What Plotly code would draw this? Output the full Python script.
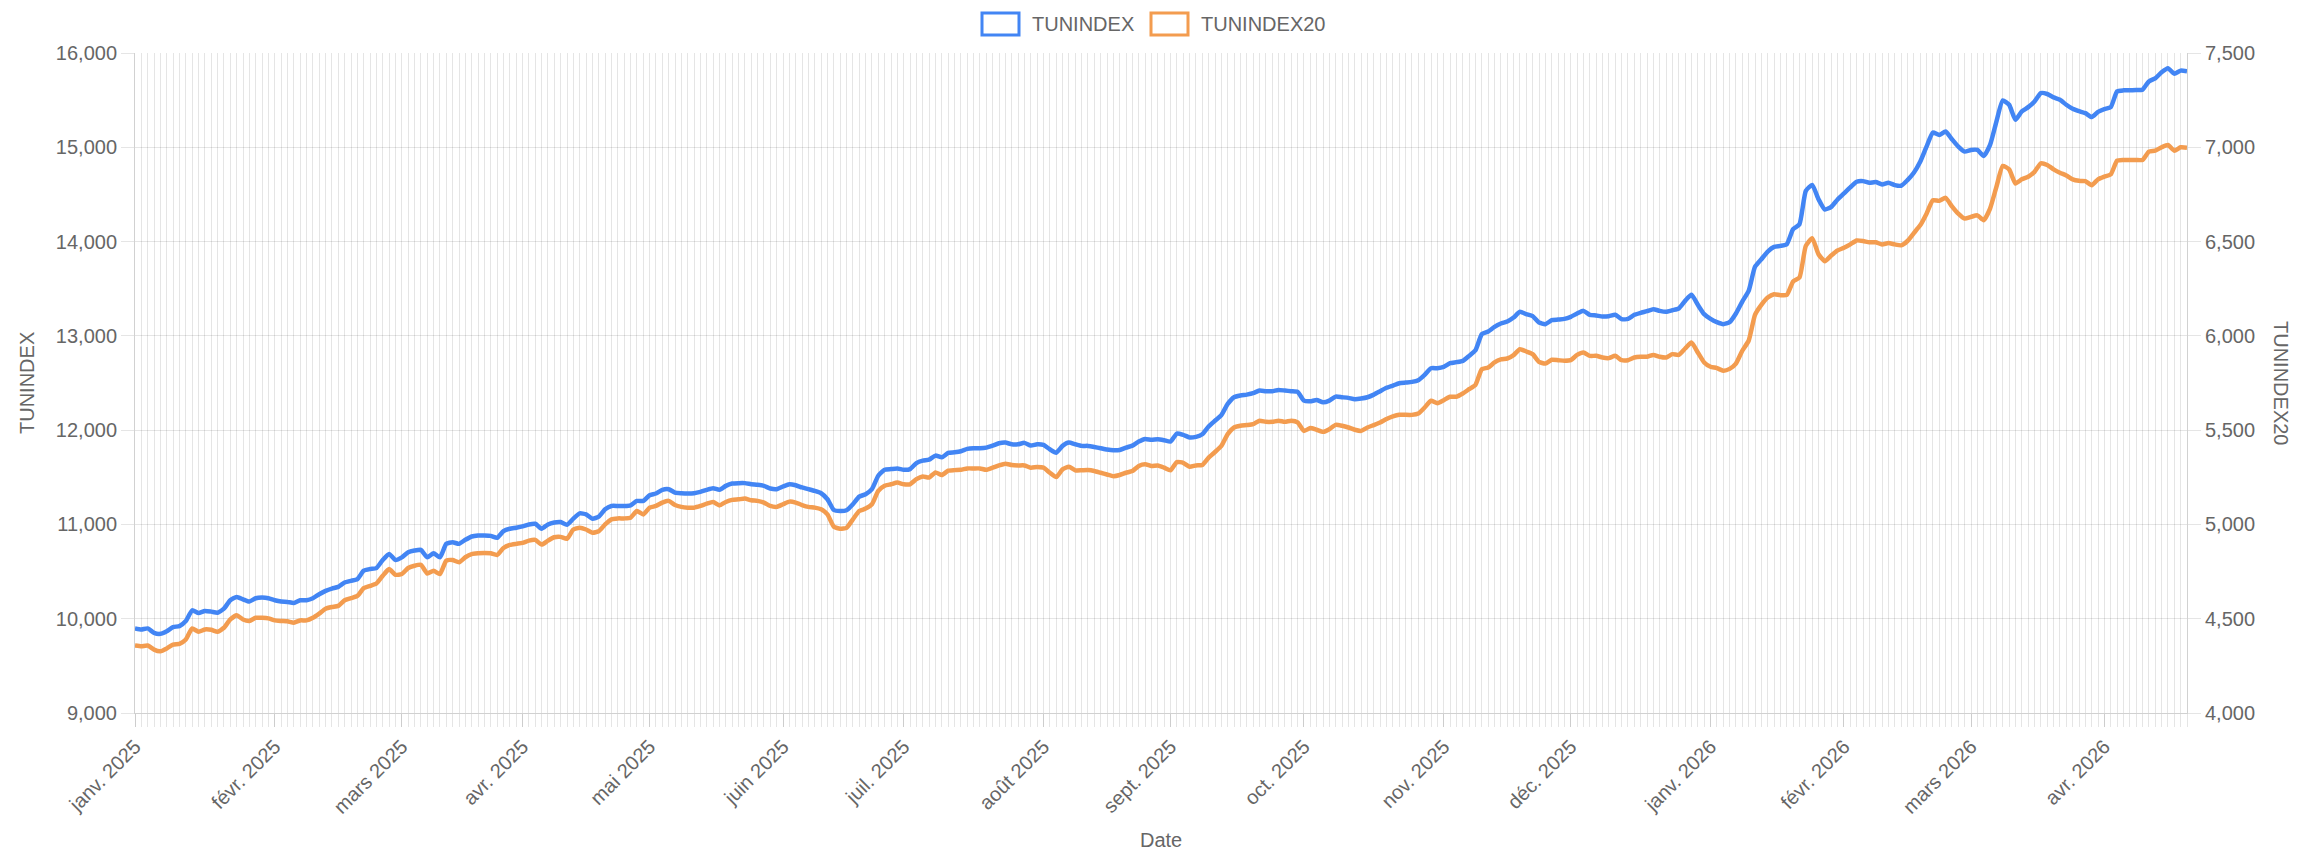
import pandas as pd
import plotly.graph_objects as go

# Trading days of the Tunis stock exchange, first session and closed days
START_DATE = '2025-01-02'
MARKET_HOLIDAYS = [
	'2025-01-01', '2025-03-20', '2025-03-31', '2025-04-01', '2025-04-09',
	'2025-05-01', '2025-06-06', '2025-06-26', '2025-07-25', '2025-08-13',
	'2025-09-04', '2025-10-15', '2025-12-17', '2026-01-01', '2026-03-20',
	'2026-04-09'
]

MONTH_NAMES = ['janv.', 'févr.', 'mars', 'avr.', 'mai', 'juin',
	'juil.', 'août', 'sept.', 'oct.', 'nov.', 'déc.']

# Daily closes, one value per session
TUNINDEX = [
	9897, 9886, 9897, 9850, 9840, 9868, 9911, 9922, 9975, 10089,
	10060, 10082, 10075, 10064, 10107, 10196, 10231, 10206, 10182, 10217,
	10224, 10217, 10196, 10182, 10178, 10167, 10196, 10196, 10217, 10260,
	10295, 10320, 10338, 10384, 10402, 10420, 10509, 10527, 10537, 10623,
	10687, 10623, 10651, 10705, 10723, 10730, 10651, 10694, 10651, 10794,
	10811, 10794, 10837, 10872, 10883, 10883, 10879, 10858, 10929, 10954,
	10965, 10979, 11000, 11007, 10954, 11000, 11021,
	11025, 10996, 11061, 11117, 11107, 11061, 11082, 11160, 11196, 11196,
	11196, 11203, 11249, 11249, 11310, 11328, 11367, 11374, 11338, 11331,
	11328, 11331, 11345, 11367, 11384, 11367, 11409, 11434, 11438, 11438,
	11427, 11420, 11409, 11381, 11374, 11402, 11427, 11416, 11392, 11374,
	11356, 11331, 11267, 11153, 11142, 11150, 11214, 11295, 11320, 11374,
	11516, 11580, 11587, 11594, 11580, 11587, 11651, 11676, 11687, 11730,
	11712, 11758, 11765, 11776, 11801, 11808, 11808,
	11815, 11836, 11861, 11868, 11850, 11850, 11865, 11836, 11850, 11843,
	11797, 11761, 11833, 11868, 11850, 11833, 11833, 11822, 11808, 11794,
	11786, 11790, 11815, 11836, 11879, 11907, 11897, 11904, 11893, 11879,
	11964, 11950, 11922, 11929, 11957, 12039, 12100, 12160, 12278, 12349,
	12367, 12377, 12392, 12420, 12413, 12413, 12427, 12420, 12413, 12406,
	12313, 12306, 12320, 12295, 12313, 12356, 12349, 12342, 12328, 12335,
	12349, 12377, 12413, 12449, 12473, 12498,
	12505, 12512, 12530, 12587, 12657, 12657, 12671, 12710, 12721, 12735,
	12788, 12848, 13018, 13046, 13096, 13131, 13152, 13194, 13255, 13230,
	13209, 13141, 13124, 13166, 13173, 13180, 13202, 13237, 13265, 13223,
	13216, 13205, 13209, 13223, 13177, 13180, 13223, 13244, 13262, 13283,
	13265, 13255, 13272, 13290, 13371, 13435, 13329, 13230, 13180, 13145,
	13124, 13145, 13237, 13364, 13477, 13732, 13813, 13894, 13944, 13954,
	13972, 14131, 14184, 14537, 14601, 14449,
	14340, 14368, 14446, 14510, 14574, 14634, 14641, 14624, 14631, 14606,
	14624, 14599, 14592, 14652, 14730, 14847, 15007, 15156, 15131, 15167,
	15085, 15007, 14954, 14972, 14972, 14908, 15025, 15273, 15497, 15451,
	15291, 15380, 15426, 15486, 15575, 15565, 15529, 15504, 15451, 15408,
	15383, 15362, 15320, 15376, 15405, 15426, 15593, 15604, 15604, 15607,
	15611, 15699, 15731, 15795, 15838, 15781, 15813, 15806
]

TUNINDEX20 = [
	4358, 4354, 4358, 4336, 4327, 4342, 4363, 4367, 4390, 4448,
	4431, 4443, 4441, 4431, 4452, 4496, 4518, 4496, 4488, 4505,
	4505, 4502, 4491, 4488, 4486, 4479, 4491, 4491, 4505, 4527,
	4553, 4562, 4568, 4598, 4609, 4621, 4662, 4674, 4687, 4728,
	4763, 4733, 4737, 4769, 4781, 4786, 4740, 4754, 4737, 4808,
	4811, 4799, 4826, 4843, 4847, 4849, 4847, 4838, 4875, 4891,
	4897, 4902, 4914, 4918, 4893, 4914, 4932,
	4934, 4924, 4973, 4982, 4973, 4956, 4964, 5000, 5027, 5032,
	5032, 5036, 5071, 5053, 5089, 5098, 5116, 5125, 5103, 5093,
	5089, 5089, 5098, 5110, 5119, 5101, 5119, 5130, 5133, 5137,
	5128, 5125, 5116, 5098, 5093, 5107, 5121, 5116, 5103, 5093,
	5089, 5080, 5053, 4988, 4977, 4982, 5027, 5071, 5084, 5107,
	5178, 5205, 5213, 5222, 5213, 5213, 5240, 5254, 5249, 5276,
	5262, 5285, 5288, 5290, 5297, 5297, 5297,
	5290, 5301, 5313, 5322, 5315, 5313, 5313, 5301, 5304, 5301,
	5274, 5251, 5292, 5306, 5287, 5287, 5288, 5283, 5274, 5265,
	5256, 5262, 5274, 5283, 5310, 5319, 5310, 5313, 5301, 5287,
	5331, 5327, 5306, 5313, 5315, 5354, 5384, 5416, 5479, 5514,
	5523, 5527, 5532, 5550, 5544, 5544, 5550, 5544, 5550, 5541,
	5496, 5511, 5502, 5491, 5505, 5528, 5523, 5514, 5502, 5496,
	5514, 5527, 5541, 5559, 5573, 5582,
	5581, 5581, 5588, 5620, 5656, 5643, 5659, 5677, 5677, 5694,
	5717, 5740, 5823, 5832, 5859, 5875, 5880, 5898, 5929, 5917,
	5903, 5862, 5853, 5873, 5871, 5868, 5871, 5899, 5912, 5894,
	5894, 5885, 5882, 5894, 5871, 5871, 5885, 5889, 5889, 5899,
	5889, 5885, 5903, 5899, 5933, 5965, 5912, 5859, 5836, 5829,
	5815, 5825, 5853, 5921, 5974, 6111, 6164, 6203, 6221, 6216,
	6217, 6288, 6309, 6477, 6518, 6433,
	6396, 6426, 6453, 6467, 6485, 6506, 6503, 6496, 6496, 6485,
	6492, 6485, 6480, 6503, 6545, 6586, 6648, 6719, 6716, 6732,
	6687, 6648, 6622, 6631, 6639, 6613, 6675, 6790, 6901, 6883,
	6808, 6830, 6844, 6870, 6915, 6906, 6883, 6865, 6851, 6830,
	6822, 6821, 6799, 6830, 6844, 6856, 6929, 6933, 6933, 6933,
	6933, 6977, 6982, 7000, 7012, 6982, 7000, 6998
]

BLUE = '#4285f4'
ORANGE = '#f39c4f'
GRID = 'rgba(0,0,0,0.1)'
TEXT = '#666666'
FONT = 'Liberation Sans, Arial, sans-serif'

# plot area in page pixels
PLOT_L, PLOT_R, PLOT_T, PLOT_B = 135, 2187, 53, 713


def px_x(x):
	return (x - PLOT_L) / (PLOT_R - PLOT_L)


def px_y(y):
	return (PLOT_B - y) / (PLOT_B - PLOT_T)


dates = pd.bdate_range(START_DATE, periods=len(TUNINDEX), freq='C', holidays=MARKET_HOLIDAYS)
x_values = list(range(len(dates)))
date_text = [d.strftime('%d/%m/%Y') for d in dates]

month_ticks = [i for i in x_values if i == 0 or dates[i].month != dates[i - 1].month]
month_labels = [f"{MONTH_NAMES[dates[i].month - 1]} {dates[i].year}" for i in month_ticks]

fig = go.Figure()

fig.add_trace(
	go.Scatter(
		x=x_values,
		y=TUNINDEX,
		customdata=date_text,
		name='TUNINDEX',
		mode='lines',
		line=dict(color=BLUE, width=4.5, shape='spline', smoothing=0.5),
		hovertemplate='%{customdata}<br>TUNINDEX: %{y:,.2f}<extra></extra>',
		yaxis='y'
	)
)

fig.add_trace(
	go.Scatter(
		x=x_values,
		y=TUNINDEX20,
		customdata=date_text,
		name='TUNINDEX20',
		mode='lines',
		line=dict(color=ORANGE, width=4.5, shape='spline', smoothing=0.5),
		hovertemplate='%{customdata}<br>TUNINDEX20: %{y:,.2f}<extra></extra>',
		yaxis='y2'
	)
)

fig.update_layout(
	width=2300,
	height=854,
	margin=dict(l=PLOT_L, r=2300 - PLOT_R, t=PLOT_T, b=854 - PLOT_B),
	paper_bgcolor='white',
	plot_bgcolor='white',
	font=dict(family=FONT, size=20, color=TEXT),
	showlegend=False,
	hovermode='x unified',
	yaxis=dict(
		range=[9000, 16000],
		dtick=1000,
		tickformat=',',
		showgrid=True,
		gridcolor=GRID,
		zeroline=False,
		showline=True,
		linecolor='rgba(0,0,0,0.18)',
		ticks='outside',
		ticklen=13,
		tickcolor=GRID
	),
	yaxis2=dict(
		overlaying='y',
		side='right',
		range=[4000, 7500],
		dtick=500,
		tickformat=',',
		showgrid=False,
		zeroline=False,
		showline=True,
		linecolor='rgba(0,0,0,0.18)',
		ticks='outside',
		ticklen=13,
		tickcolor=GRID
	)
)

fig.update_xaxes(
	range=[0, len(x_values) - 1],
	tickmode='array',
	tickvals=month_ticks,
	ticktext=month_labels,
	tickangle=-45,
	showgrid=False,
	zeroline=False,
	showline=True,
	linecolor='rgba(0,0,0,0.18)',
	ticks='outside',
	ticklen=13,
	tickcolor=GRID,
	minor=dict(
		tickmode='linear',
		tick0=0,
		dtick=1,
		showgrid=True,
		gridcolor=GRID,
		ticks='outside',
		ticklen=13,
		tickcolor=GRID
	)
)

# axis titles
fig.add_annotation(x=0.5, y=px_y(840), xref='paper', yref='paper', text='Date',
	showarrow=False, xanchor='center', yanchor='middle')
fig.add_annotation(x=px_x(27), y=0.5, xref='paper', yref='paper', text='TUNINDEX',
	showarrow=False, textangle=-90, xanchor='center', yanchor='middle')
fig.add_annotation(x=px_x(2281), y=0.5, xref='paper', yref='paper', text='TUNINDEX20',
	showarrow=False, textangle=90, xanchor='center', yanchor='middle')

# legend drawn as outlined boxes, like the original
legend_items = [('TUNINDEX', BLUE, 982), ('TUNINDEX20', ORANGE, 1151)]
for label, color, left in legend_items:
	fig.add_shape(
		type='rect', xref='paper', yref='paper',
		x0=px_x(left), x1=px_x(left + 37), y0=px_y(35), y1=px_y(13),
		line=dict(color=color, width=3), fillcolor='white'
	)
	fig.add_annotation(
		x=px_x(left + 48), y=px_y(24), xref='paper', yref='paper', text=label,
		showarrow=False, xanchor='left', yanchor='middle'
	)

fig.write_html(
	"out.html",
	config={'displayModeBar': False},
	post_script="document.body.style.margin = '0';"
)
